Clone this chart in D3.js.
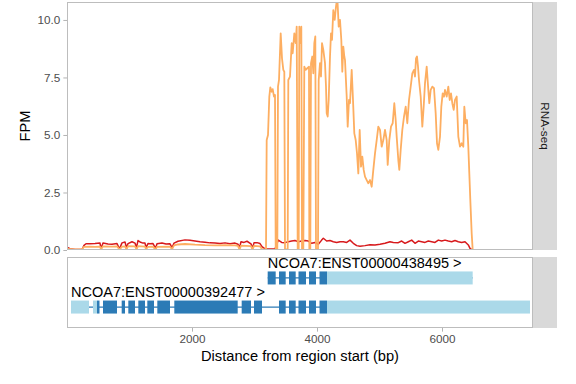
<!DOCTYPE html>
<html>
<head>
<meta charset="utf-8">
<script src="https://cdn.jsdelivr.net/npm/d3@7"></script>
<style>
  body { margin: 0; background: #ffffff; }
  svg { display: block; font-family: "Liberation Sans", Arial, Helvetica, sans-serif; }
</style>
</head>
<body>
<div id="chart"></div>
<script>
// coverage of the two samples (bp from region start, FPM)
const orangePos = [0, 128, 240, 272, 368, 448, 528, 544, 576, 720, 800, 840, 880, 928, 952, 976, 1088, 1112, 1136, 1248,
  1264, 1296, 1376, 1416, 1440, 1648, 1680, 1712, 1776, 1888, 2048, 2208, 2368, 2528, 2688, 2736, 2760, 2784, 2944, 2968,
  2992, 3088, 3120, 3184, 3195, 3216, 3237, 3253, 3275, 3291, 3312, 3328, 3339, 3365, 3376, 3392, 3419, 3440, 3461, 3477,
  3488, 3531, 3541, 3568, 3595, 3611, 3637, 3659, 3675, 3691, 3707, 3717, 3733, 3749, 3760, 3781, 3797, 3819, 3845, 3872,
  3877, 3893, 3904, 3925, 3941, 3957, 3973, 3984, 4016, 4027, 4048, 4064, 4080, 4101, 4128, 4144, 4155, 4171, 4187, 4208,
  4224, 4240, 4261, 4283, 4304, 4325, 4347, 4368, 4389, 4405, 4421, 4437, 4448, 4475, 4491, 4512, 4528, 4555, 4576, 4597,
  4619, 4640, 4661, 4683, 4704, 4725, 4747, 4768, 4795, 4821, 4848, 4875, 4901, 4928, 4955, 4981, 5008, 5035, 5061, 5088,
  5115, 5131, 5157, 5184, 5211, 5237, 5259, 5275, 5301, 5317, 5339, 5365, 5392, 5419, 5445, 5472, 5499, 5525, 5552, 5568,
  5584, 5600, 5616, 5632, 5659, 5685, 5707, 5728, 5755, 5781, 5797, 5819, 5845, 5872, 5899, 5920, 5941, 5968, 5989, 6011,
  6032, 6048, 6075, 6101, 6123, 6144, 6165, 6187, 6208, 6235, 6261, 6288, 6315, 6341, 6357, 6379, 6400, 6421, 6437, 6453,
  6475, 6491, 7456];
const orangeFpm = [0.05, 0.03, 0.03, 0.14, 0.15, 0.14, 0.15, 0.02, 0.16, 0.15, 0.16, 0.02, 0.15, 0.16, 0.03, 0.17, 0.16, 0.03, 0.17, 0.15,
  0.03, 0.14, 0.15, 0.02, 0.14, 0.15, 0.03, 0.20, 0.24, 0.26, 0.23, 0.21, 0.20, 0.21, 0.20, 0.18, 0.02, 0.19, 0.17, 0.02,
  0.18, 0.16, 0.03, 0.03, 4.78, 5.00, 6.67, 7.07, 6.88, 6.99, 6.67, 6.74, 0.03, 0.03, 7.10, 7.39, 9.42, 8.33, 7.83, 7.75,
  0.03, 0.03, 7.39, 7.54, 8.99, 8.55, 9.42, 8.99, 9.71, 0.03, 0.03, 9.71, 8.99, 9.71, 0.03, 0.03, 7.97, 7.83, 7.90, 7.97,
  0.03, 0.03, 8.12, 8.41, 7.68, 8.99, 9.28, 0.03, 0.03, 7.39, 8.12, 7.54, 8.99, 8.70, 8.12, 7.10, 5.94, 5.80, 6.52, 8.41,
  9.42, 9.13, 10.43, 10.00, 10.58, 11.00, 9.71, 10.00, 9.13, 7.75, 8.84, 8.41, 8.26, 6.67, 5.36, 6.52, 6.38, 7.83, 6.52, 5.07,
  4.78, 4.20, 3.33, 5.22, 3.62, 4.06, 3.48, 3.19, 3.04, 2.90, 3.04, 2.75, 3.48, 4.20, 4.78, 5.36, 5.22, 4.49, 4.78, 5.22,
  4.78, 3.70, 4.78, 5.36, 5.51, 6.38, 5.65, 4.93, 3.91, 3.48, 4.35, 5.22, 5.80, 6.23, 5.51, 6.52, 7.10, 7.68, 7.83, 7.54,
  8.33, 8.41, 7.97, 7.39, 6.67, 5.36, 6.23, 7.25, 7.97, 6.96, 6.38, 6.96, 7.10, 7.03, 5.94, 4.64, 4.35, 4.93, 6.23, 6.81,
  6.67, 6.96, 6.67, 7.10, 6.52, 6.81, 6.38, 6.09, 6.52, 6.67, 4.93, 4.49, 4.64, 4.49, 6.23, 5.51, 5.65, 4.49, 3.33, 2.17,
  0.72, 0, 0];

const redPos = [0, 48, 128, 240, 272, 304, 368, 448, 528, 544, 576, 656, 720, 800, 840, 880, 928, 952, 976, 1040,
  1088, 1112, 1136, 1168, 1216, 1248, 1264, 1296, 1328, 1376, 1416, 1440, 1520, 1584, 1648, 1680, 1712, 1776, 1888, 1968,
  2048, 2128, 2208, 2288, 2368, 2448, 2528, 2608, 2688, 2736, 2760, 2784, 2832, 2880, 2944, 2968, 2992, 3040, 3088, 3120,
  3168, 3248, 3328, 3381, 3435, 3488, 3541, 3595, 3648, 3701, 3755, 3808, 3861, 3915, 3968, 4021, 4075, 4101, 4155, 4208,
  4261, 4315, 4368, 4421, 4475, 4528, 4581, 4635, 4688, 4768, 4848, 4928, 5008, 5088, 5168, 5221, 5301, 5355, 5408, 5461,
  5515, 5568, 5621, 5675, 5728, 5781, 5835, 5888, 5941, 5995, 6048, 6101, 6155, 6208, 6261, 6315, 6368, 6421, 6448, 6475,
  6500, 7456];
const redFpm = [0.12, 0.06, 0.02, 0.02, 0.20, 0.27, 0.27, 0.28, 0.30, 0.05, 0.30, 0.26, 0.25, 0.28, 0.05, 0.31, 0.35, 0.10, 0.28, 0.36,
  0.30, 0.10, 0.41, 0.35, 0.30, 0.30, 0.10, 0.28, 0.27, 0.28, 0.08, 0.27, 0.30, 0.26, 0.27, 0.10, 0.30, 0.38, 0.44, 0.42,
  0.39, 0.36, 0.34, 0.31, 0.30, 0.28, 0.31, 0.27, 0.30, 0.25, 0.10, 0.36, 0.33, 0.38, 0.27, 0.08, 0.31, 0.32, 0.28, 0.15,
  0.05, 0.04, 0.04, 0.43, 0.33, 0.32, 0.36, 0.39, 0.41, 0.36, 0.39, 0.41, 0.39, 0.29, 0.33, 0.25, 0.43, 0.51, 0.39, 0.41,
  0.36, 0.33, 0.36, 0.36, 0.33, 0.43, 0.29, 0.19, 0.16, 0.19, 0.23, 0.22, 0.25, 0.29, 0.36, 0.33, 0.32, 0.39, 0.29, 0.36,
  0.43, 0.29, 0.39, 0.36, 0.33, 0.39, 0.36, 0.33, 0.43, 0.39, 0.43, 0.39, 0.36, 0.41, 0.36, 0.33, 0.36, 0.22, 0.07, 0.02,
  0, 0];

// transcripts and their exons (start bp, end bp, kind)
const txNames = ["NCOA7:ENST00000438495", "NCOA7:ENST00000392477"];
const tx438495Exons = [[3211, 3339, "cds"], [3392, 3499, "cds"], [3552, 3659, "cds"], [3704, 3824, "cds"],
  [3872, 3984, "cds"], [4040, 4160, "cds"], [4160, 6491, "utr"]];
const tx392477Exons = [[64, 352, "utr"], [416, 480, "utr"], [480, 520, "cds"], [576, 800, "cds"], [875, 928, "cds"],
  [981, 1088, "cds"], [1141, 1248, "cds"], [1285, 1392, "cds"], [1445, 1648, "cds"], [1717, 2731, "cds"],
  [2795, 2944, "cds"], [2992, 3120, "cds"], [3392, 3499, "cds"], [3552, 3659, "cds"], [3704, 3824, "cds"],
  [3872, 3984, "cds"], [4040, 4160, "cds"], [4160, 7408, "utr"]];

// tick values and labels
const xTicks = [2000, 4000, 6000];
const yTicks = [0, 2.5, 5, 7.5, 10];
const stripLabel = "RNA-seq";
const xTitle = "Distance from region start (bp)";
const yTitle = "FPM";

// layout
const W = 576, H = 384;
const panelL = 67, panelR = 533, stripW = 24;
const top1 = 2, bot1 = 250;     // coverage panel
const top2 = 257, bot2 = 328;   // transcript panel
const borderCol = "#bdbdbd", tickCol = "#b3b3b3", tickTextCol = "#4d4d4d";

const svg = d3.select("#chart").append("svg")
  .attr("width", W)
  .attr("height", H);

// scales
const x = d3.scaleLinear().domain([0, 7456]).range([panelL, panelR]);
const y = d3.scaleLinear().domain([0, 10.78]).range([bot1, top1]);
const yTx = d3.scalePoint().domain(txNames).range([top2, bot2]).padding(0.72);

// clip path for the coverage panel
svg.append("defs").append("clipPath")
  .attr("id", "clip1")
  .append("rect")
  .attr("x", panelL).attr("y", top1)
  .attr("width", panelR - panelL).attr("height", bot1 - top1);

// strips
[[top1, bot1], [top2, bot2]].forEach(([t, b]) => {
  svg.append("rect")
    .attr("x", panelR).attr("y", t)
    .attr("width", stripW).attr("height", b - t)
    .attr("fill", "#d9d9d9");
});
svg.append("text")
  .attr("transform", `translate(${panelR + stripW / 2},${(top1 + bot1) / 2}) rotate(90)`)
  .attr("text-anchor", "middle")
  .attr("dy", "0.35em")
  .style("font-size", "11.7px")
  .style("fill", "#1a1a1a")
  .text(stripLabel);

// coverage lines
const line = d3.line()
  .x(d => x(d[0]))
  .y(d => y(d[1]));

const redData = redPos.map((p, i) => [p, redFpm[i]]);
const orangeData = orangePos.map((p, i) => [p, orangeFpm[i]]);

const lines = svg.append("g").attr("clip-path", "url(#clip1)");
lines.append("path")
  .datum(redData)
  .attr("d", line)
  .attr("fill", "none")
  .attr("stroke", "#d7191c")
  .attr("stroke-width", 1.5)
  .attr("stroke-linejoin", "round");
lines.append("path")
  .datum(orangeData)
  .attr("d", line)
  .attr("fill", "none")
  .attr("stroke", "#fdae61")
  .attr("stroke-width", 1.8)
  .attr("stroke-linejoin", "round");

// transcripts
const txExons = [tx438495Exons, tx392477Exons];
const exonH = 13;
txNames.forEach((name, i) => {
  const exons = txExons[i];
  const cy = yTx(name);
  const g = svg.append("g");
  g.append("line")
    .attr("x1", x(exons[0][0])).attr("x2", x(exons[exons.length - 1][1]))
    .attr("y1", cy).attr("y2", cy)
    .attr("stroke", "#2c7bb6")
    .attr("stroke-width", 1.3);
  g.selectAll("rect")
    .data(exons)
    .enter().append("rect")
    .attr("x", d => x(d[0]))
    .attr("y", cy - exonH / 2)
    .attr("width", d => x(d[1]) - x(d[0]))
    .attr("height", exonH)
    .attr("fill", d => d[2] === "cds" ? "#2c7bb6" : "#abd9e9");
  g.append("text")
    .attr("x", x(exons[0][0]))
    .attr("y", cy - 10)
    .style("font-size", "14.5px")
    .style("fill", "#000")
    .text(name + " >");
});

// panel borders
[[top1, bot1], [top2, bot2]].forEach(([t, b]) => {
  svg.append("rect")
    .attr("x", panelL + 0.5).attr("y", t + 0.5)
    .attr("width", panelR - panelL - 1).attr("height", b - t - 1)
    .attr("fill", "none")
    .attr("stroke", borderCol)
    .attr("stroke-width", 1);
});

// axes
const yAxis = svg.append("g")
  .attr("transform", `translate(${panelL},0)`)
  .call(d3.axisLeft(y).tickValues(yTicks).tickSize(3.67).tickPadding(3).tickFormat(d3.format(".1f")));
const xAxis = svg.append("g")
  .attr("transform", `translate(0,${bot2})`)
  .call(d3.axisBottom(x).tickValues(xTicks).tickSize(3.67).tickPadding(3).tickFormat(d3.format("d")));

[yAxis, xAxis].forEach(a => {
  a.select(".domain").remove();
  a.selectAll(".tick line").attr("stroke", tickCol);
  a.selectAll(".tick text")
    .style("font-size", "11.7px")
    .style("font-family", "Liberation Sans, Arial, sans-serif")
    .attr("fill", tickTextCol);
});

// axis titles
svg.append("text")
  .attr("x", (panelL + panelR) / 2)
  .attr("y", 361)
  .attr("text-anchor", "middle")
  .style("font-size", "14.67px")
  .text(xTitle);
svg.append("text")
  .attr("transform", `translate(30,${(top1 + bot1) / 2}) rotate(-90)`)
  .attr("text-anchor", "middle")
  .style("font-size", "14.67px")
  .text(yTitle);
</script>
</body>
</html>
